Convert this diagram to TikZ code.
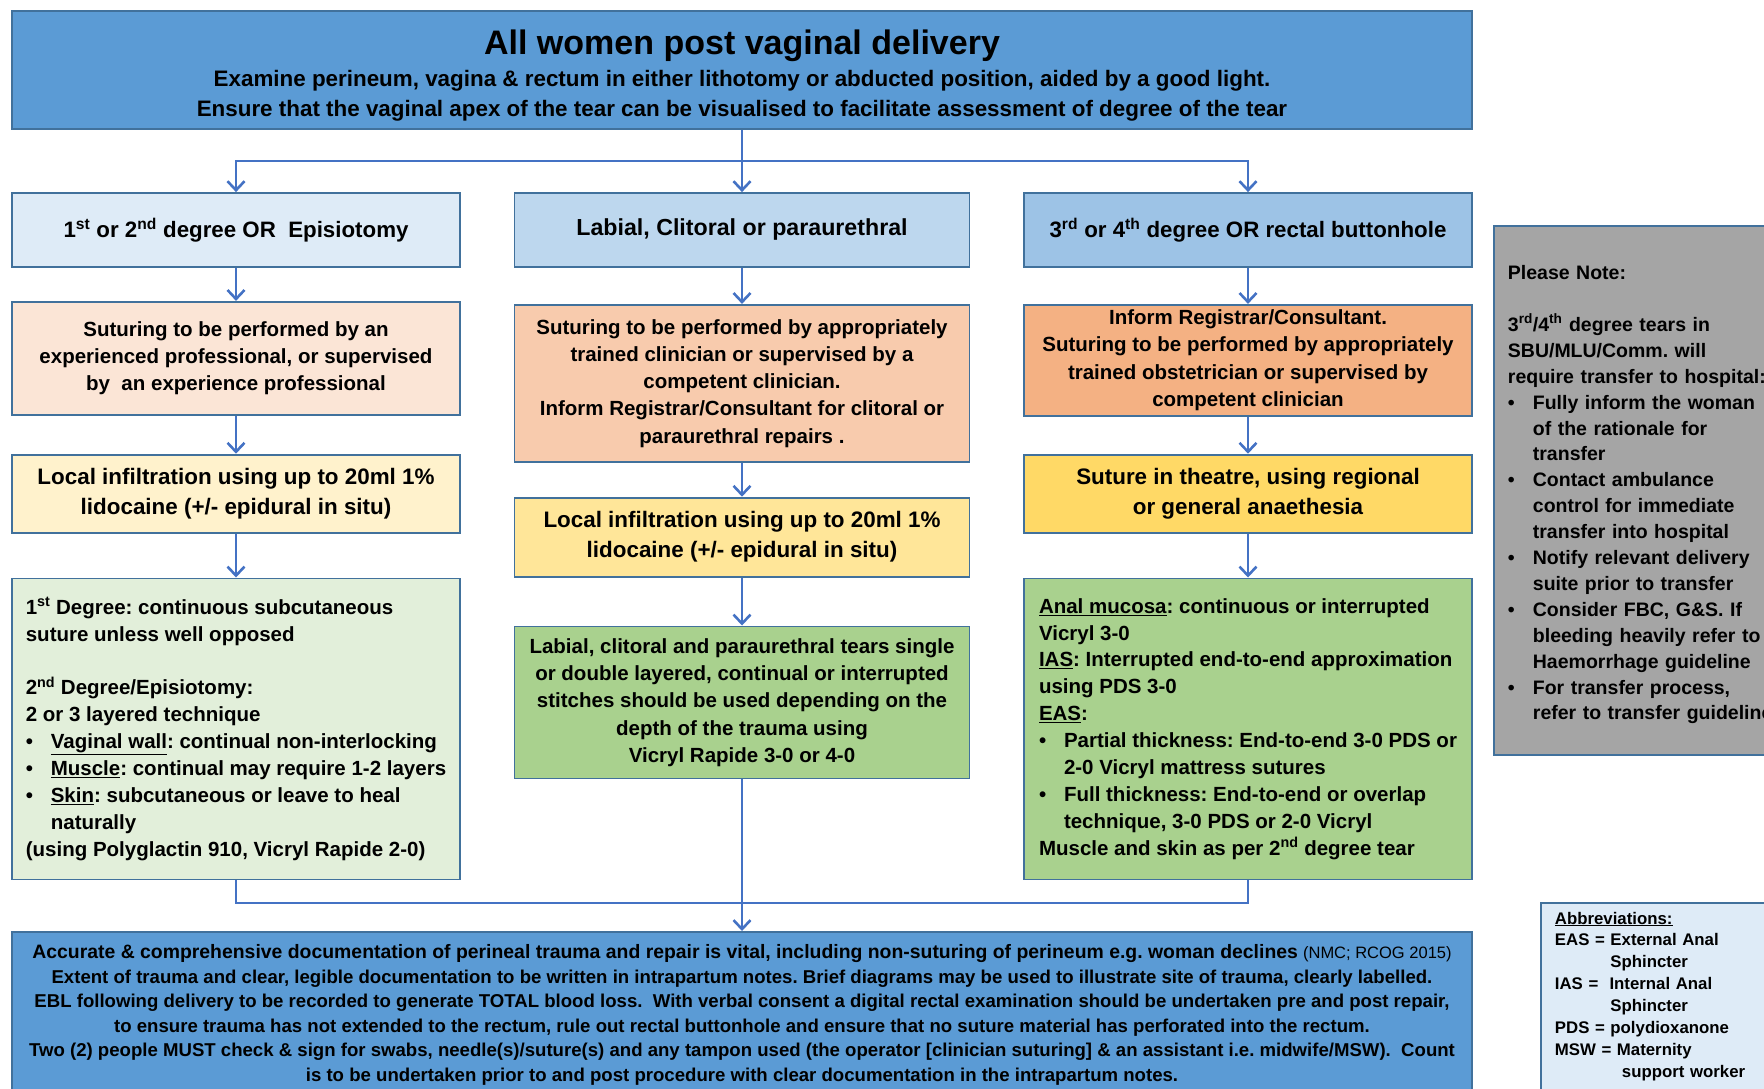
\documentclass[tikz,border=0pt]{standalone}
\usepackage{fontspec}
\setmainfont{Liberation Sans}
\usetikzlibrary{arrows.meta, positioning}

\definecolor{flowblue}{HTML}{4472C4}
\definecolor{frameblue}{HTML}{41719C}
\definecolor{mainblue}{HTML}{5B9BD5}
\definecolor{blueA}{HTML}{DEEBF7}
\definecolor{blueB}{HTML}{BDD7EE}
\definecolor{blueC}{HTML}{9DC3E6}
\definecolor{peachA}{HTML}{FBE5D6}
\definecolor{peachB}{HTML}{F8CBAD}
\definecolor{peachC}{HTML}{F4B183}
\definecolor{goldA}{HTML}{FFF2CC}
\definecolor{goldB}{HTML}{FFE699}
\definecolor{goldC}{HTML}{FFD966}
\definecolor{greenA}{HTML}{E2EFDA}
\definecolor{greenB}{HTML}{A9D18E}
\definecolor{notegray}{HTML}{A5A5A5}

\newcommand{\bul}{\makebox[25pt][l]{\textbullet}}
\newcommand{\hang}{\hspace*{25pt}}

\begin{document}
\frenchspacing
\begin{tikzpicture}[
		x=1pt, y=-1pt,
		arrow/.style={-{Straight Barb[length=9pt, width=17pt]}, draw=flowblue, line width=2.6pt},
		link/.style={draw=flowblue, line width=2.6pt},
		box/.style={rectangle, draw=frameblue, line width=1.8pt, align=center, inner sep=0pt, minimum width=448pt, font=\bfseries\fontsize{20.5}{27.3}\selectfont},
		head/.style={box, minimum height=74pt, font=\bfseries\fontsize{22.3}{28}\selectfont},
		local/.style={box, minimum height=78pt, font=\bfseries\fontsize{22.4}{30}\selectfont},
		detail/.style={box, align=left, inner xsep=10pt, minimum height=301pt, font=\bfseries\fontsize{20.5}{26.9}\selectfont},
		panel/.style={rectangle, draw=frameblue, line width=1.8pt, align=left, anchor=north west, font=\bfseries}
		]
		\useasboundingbox (0,0) rectangle (1764,1089);
		\clip (0,0) rectangle (1764,1089);
		
		% Top banner
		\node[box, fill=mainblue, minimum width=1460pt, minimum height=118pt, font=\bfseries\fontsize{22.4}{30.5}\selectfont] (top) at (742,70) {
			\rule{0pt}{36pt}{\fontsize{34}{40}\selectfont All women post vaginal delivery}\\[1pt]
			Examine perineum, vagina \& rectum in either lithotomy or abducted position, aided by a good light.\\
			Ensure that the vaginal apex of the tear can be visualised to facilitate assessment of degree of the tear};
		
		% Tear types
		\node[head, fill=blueA] (c1a) at (236,230) {1\textsuperscript{st} or 2\textsuperscript{nd} degree OR\ \ Episiotomy};
		\node[head, fill=blueB, minimum width=455pt, font=\bfseries\fontsize{23.2}{28}\selectfont] (c2a) at (742,230) {Labial, Clitoral or paraurethral};
		\node[head, fill=blueC] (c3a) at (1248,230) {3\textsuperscript{rd} or 4\textsuperscript{th} degree OR rectal buttonhole};
		
		% Column 1
		\node[box, fill=peachA, minimum height=113pt, below=33pt of c1a] (c1b) {Suturing to be performed by an\\ experienced professional, or supervised\\ by\ \ an experience professional};
		\node[local, fill=goldA, below=38pt of c1b] (c1c) {Local infiltration using up to 20ml 1\%\\ lidocaine (+/- epidural in situ)};
		\node[detail, fill=greenA, below=44pt of c1c] (c1d) {
			1\textsuperscript{st} Degree: continuous subcutaneous\\
			suture unless well opposed\\[26.9pt]
			2\textsuperscript{nd} Degree/Episiotomy:\\
			2 or 3 layered technique\\
			\bul\underline{Vaginal wall}: continual non-interlocking\\
			\bul\underline{Muscle}: continual may require 1-2 layers\\
			\bul\underline{Skin}: subcutaneous or leave to heal\\
			\hang naturally\\
			(using Polyglactin 910, Vicryl Rapide 2-0)};
		
		% Column 2
		\node[box, fill=peachB, minimum width=455pt, minimum height=157pt, below=36pt of c2a] (c2b) {Suturing to be performed by appropriately\\ trained clinician or supervised by a\\ competent clinician.\\ Inform Registrar/Consultant for clitoral or\\ paraurethral repairs .};
		\node[local, fill=goldB, minimum width=455pt, minimum height=79pt, below=34pt of c2b] (c2c) {Local infiltration using up to 20ml 1\%\\ lidocaine (+/- epidural in situ)};
		\node[box, fill=greenB, minimum width=455pt, minimum height=152pt, below=48pt of c2c] (c2d) {Labial, clitoral and paraurethral tears single\\ or double layered, continual or interrupted\\ stitches should be used depending on the\\ depth of the trauma using\\ Vicryl Rapide 3-0 or 4-0};
		
		% Column 3
		\node[box, fill=peachC, minimum height=111pt, below=36pt of c3a] (c3b) {Inform Registrar/Consultant.\\ Suturing to be performed by appropriately\\ trained obstetrician or supervised by\\ competent clinician};
		\node[local, fill=goldC, below=37pt of c3b] (c3c) {Suture in theatre, using regional\\ or general anaethesia};
		\node[detail, fill=greenB, below=44pt of c3c] (c3d) {
			\underline{Anal mucosa}: continuous or interrupted\\
			Vicryl 3-0\\
			\underline{IAS}: Interrupted end-to-end approximation\\
			using PDS 3-0\\
			\underline{EAS}:\\
			\bul Partial thickness: End-to-end 3-0 PDS or\\
			\hang 2-0 Vicryl mattress sutures\\
			\bul Full thickness: End-to-end or overlap\\
			\hang technique, 3-0 PDS or 2-0 Vicryl\\
			Muscle and skin as per 2\textsuperscript{nd} degree tear};
		
		% Documentation
		\node[box, fill=mainblue, anchor=north, minimum width=1460pt, inner ysep=13pt, font=\bfseries\fontsize{18.6}{24.5}\selectfont] (docs) at (742,931) {
			{\fontsize{19.4}{24.5}\selectfont Accurate \& comprehensive documentation of perineal trauma and repair is vital, including non-suturing of perineum e.g. woman declines} {\mdseries\fontsize{16.5}{24.5}\selectfont (NMC; RCOG 2015)}\\
			Extent of trauma and clear, legible documentation to be written in intrapartum notes. Brief diagrams may be used to illustrate site of trauma, clearly labelled.\\
			EBL following delivery to be recorded to generate TOTAL blood loss.\ \ With verbal consent a digital rectal examination should be undertaken pre and post repair,\\
			to ensure trauma has not extended to the rectum, rule out rectal buttonhole and ensure that no suture material has perforated into the rectum.\\
			Two (2) people MUST check \& sign for swabs, needle(s)/suture(s) and any tampon used (the operator [clinician suturing] \& an assistant i.e. midwife/MSW).\ \ Count\\
			is to be undertaken prior to and post procedure with clear documentation in the intrapartum notes.};
		
		% Side notes
		\node[panel, fill=notegray, text width=275pt, inner xsep=14pt, minimum height=529pt, font=\bfseries\fontsize{19.5}{25.9}\selectfont] (note) at (1493,225) {
			\rule{0pt}{23pt}Please Note:\\[25.9pt]
			3\textsuperscript{rd}/4\textsuperscript{th} degree tears in\\
			SBU/MLU/Comm. will\\
			require transfer to hospital:\\
			\bul Fully inform the woman\\
			\hang of the rationale for\\
			\hang transfer\\
			\bul Contact ambulance\\
			\hang control for immediate\\
			\hang transfer into hospital\\
			\bul Notify relevant delivery\\
			\hang suite prior to transfer\\
			\bul Consider FBC, G\&S. If\\
			\hang bleeding heavily refer to\\
			\hang Haemorrhage guideline\\
			\bul For transfer process,\\
			\hang refer to transfer guideline};
		\node[panel, fill=blueA, text width=230pt, inner xsep=14pt, inner ysep=9pt, font=\bfseries\fontsize{16.8}{21.9}\selectfont] (abbr) at (1540,902) {
			\underline{Abbreviations:}\\
			EAS = External Anal\\
			\phantom{EAS = }Sphincter\\
			IAS =\ \ Internal Anal\\
			\phantom{EAS = }Sphincter\\
			PDS = polydioxanone\\
			MSW = Maternity\\
			\phantom{MSW = }\hspace*{5pt}support worker};
		
		% Arrows
		\coordinate (split) at (742,161);
		\coordinate (merge) at (742,903);
		\draw[link] (top) -- (split);
		\draw[arrow] (split) -| (c1a.north);
		\draw[arrow] (split) -- (c2a);
		\draw[arrow] (split) -| (c3a.north);
		\draw[arrow] (c1a) -- (c1b);
		\draw[arrow] (c1b) -- (c1c);
		\draw[arrow] (c1c) -- (c1d);
		\draw[arrow] (c2a) -- (c2b);
		\draw[arrow] (c2b) -- (c2c);
		\draw[arrow] (c2c) -- (c2d);
		\draw[arrow] (c3a) -- (c3b);
		\draw[arrow] (c3b) -- (c3c);
		\draw[arrow] (c3c) -- (c3d);
		\draw[link] (c1d) |- (merge);
		\draw[link] (c3d) |- (merge);
		\draw[arrow] (c2d) -- (docs);
	\end{tikzpicture}
\end{document}
